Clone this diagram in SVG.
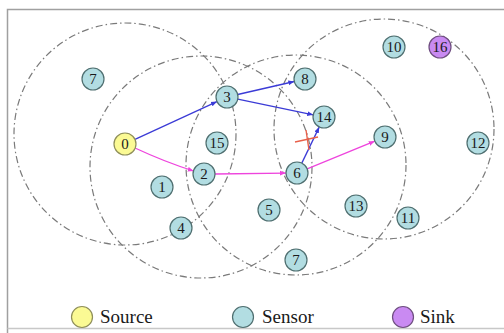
<svg xmlns="http://www.w3.org/2000/svg" width="504" height="333" viewBox="0 0 504 333" font-family="'Liberation Serif','DejaVu Serif','Times New Roman',serif">
<defs>
<style>
.range{fill:none;stroke:#7a7a7a;stroke-width:1.2;stroke-dasharray:7 3 1.5 3}
.node circle{stroke:#4f6f70;stroke-width:1.2}
.sensor circle{fill:#b2dde2}
.src circle{fill:#fbfa94;stroke:#8f8f5a}
.sink circle{fill:#c98af2;stroke:#6f4f80}
.node text{font-family:'Liberation Serif','DejaVu Serif',serif;font-size:15px;fill:#1a1a1a;text-anchor:middle}
.blue{fill:none;stroke:#3b3bd6;stroke-width:1.3}
.mag{fill:none;stroke:#ee44dd;stroke-width:1.3}
.leg{font-family:'Liberation Serif','DejaVu Serif',serif;font-size:19px;fill:#1a1a1a}
</style>
<marker id="ab" viewBox="0 0 10 10" refX="10" refY="5" markerWidth="6" markerHeight="6" orient="auto" markerUnits="userSpaceOnUse"><path d="M0,1 L10,5 L0,9 z" fill="#3b3bd6"/></marker>
<marker id="am" viewBox="0 0 10 10" refX="10" refY="5" markerWidth="6" markerHeight="6" orient="auto" markerUnits="userSpaceOnUse"><path d="M0,1 L10,5 L0,9 z" fill="#ee44dd"/></marker>
</defs>
<rect x="0" y="0" width="504" height="333" fill="#ffffff"/>
<path d="M7.5,333 V9.5 H504" fill="none" stroke="#a0a0a0" stroke-width="1.5"/>
<path d="M7.5,328.5 H504" fill="none" stroke="#c8c8c8" stroke-width="1.5"/>
<g id="ranges">
<circle class="range" cx="125" cy="134" r="111"/>
<circle class="range" cx="201" cy="167" r="111"/>
<circle class="range" cx="296" cy="165" r="110"/>
<circle class="range" cx="384" cy="129" r="110"/>
</g>
<g id="connectors">
<line class="blue" x1="135" y1="139.4" x2="217" y2="101.6" marker-end="url(#ab)"/>
<line class="blue" x1="237.7" y1="94.5" x2="294.3" y2="81.5" marker-end="url(#ab)"/>
<line class="blue" x1="237.8" y1="99.2" x2="313.2" y2="114.8" marker-end="url(#ab)"/>
<line class="blue" x1="301.8" y1="163.1" x2="319.2" y2="127.1" marker-end="url(#ab)"/>
<path class="mag" d="M135,148 Q165,162 193.7,171" marker-end="url(#am)"/>
<line class="mag" x1="215" y1="174" x2="286" y2="173.1" marker-end="url(#am)"/>
<line class="mag" x1="307.2" y1="168.8" x2="374.8" y2="141.2" marker-end="url(#am)"/>
<g id="cross" stroke="#e8604a" stroke-width="1.4">
<line x1="295" y1="142" x2="318" y2="137"/>
<line x1="306" y1="130" x2="309" y2="150"/>
</g>
</g>
<g id="n7a" class="node sensor"><circle cx="93" cy="79" r="11"/><text x="93" y="84">7</text></g>
<g id="n3" class="node sensor"><circle cx="227" cy="97" r="11"/><text x="227" y="102">3</text></g>
<g id="n8" class="node sensor"><circle cx="305" cy="79" r="11"/><text x="305" y="84">8</text></g>
<g id="n10" class="node sensor"><circle cx="394" cy="47" r="11"/><text x="394" y="52">10</text></g>
<g id="n16" class="node sink"><circle cx="440" cy="47" r="11"/><text x="440" y="52">16</text></g>
<g id="n14" class="node sensor"><circle cx="324" cy="117" r="11"/><text x="324" y="122">14</text></g>
<g id="n0" class="node src"><circle cx="125" cy="144" r="11"/><text x="125" y="149">0</text></g>
<g id="n15" class="node sensor"><circle cx="217" cy="143" r="11"/><text x="217" y="148">15</text></g>
<g id="n9" class="node sensor"><circle cx="385" cy="137" r="11"/><text x="385" y="142">9</text></g>
<g id="n12" class="node sensor"><circle cx="478" cy="143" r="11"/><text x="478" y="148">12</text></g>
<g id="n2" class="node sensor"><circle cx="204" cy="174" r="11"/><text x="204" y="179">2</text></g>
<g id="n6" class="node sensor"><circle cx="297" cy="173" r="11"/><text x="297" y="178">6</text></g>
<g id="n1" class="node sensor"><circle cx="162" cy="187" r="11"/><text x="162" y="192">1</text></g>
<g id="n13" class="node sensor"><circle cx="356" cy="206" r="11"/><text x="356" y="211">13</text></g>
<g id="n5" class="node sensor"><circle cx="269" cy="210" r="11"/><text x="269" y="215">5</text></g>
<g id="n11" class="node sensor"><circle cx="408" cy="218" r="11"/><text x="408" y="223">11</text></g>
<g id="n4" class="node sensor"><circle cx="181" cy="228" r="11"/><text x="181" y="233">4</text></g>
<g id="n7b" class="node sensor"><circle cx="296" cy="260" r="11"/><text x="296" y="265">7</text></g>
<g id="legend">
<g class="node src"><circle cx="82" cy="317" r="10.5"/></g>
<text class="leg" x="100" y="323">Source</text>
<g class="node sensor"><circle cx="243" cy="317" r="10.5"/></g>
<text class="leg" x="262" y="323">Sensor</text>
<g class="node sink"><circle cx="403" cy="317" r="10.5"/></g>
<text class="leg" x="420" y="323">Sink</text>
</g>
</svg>
